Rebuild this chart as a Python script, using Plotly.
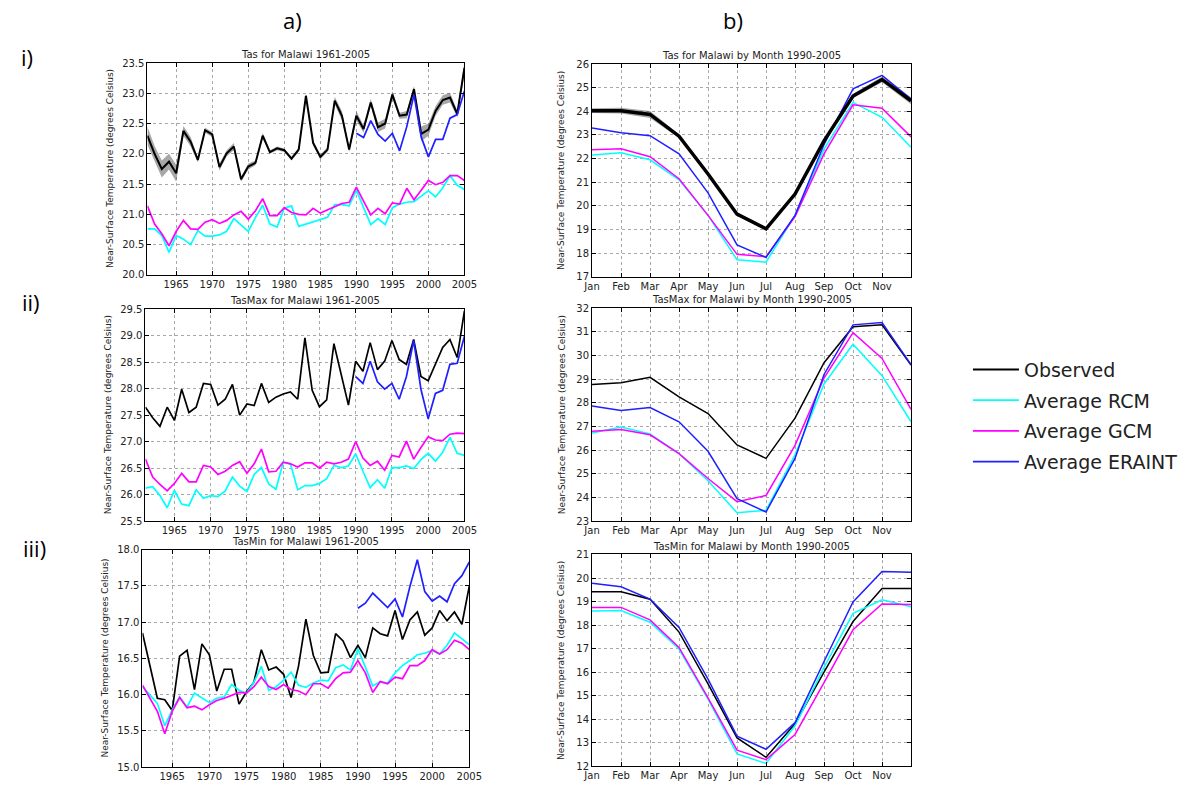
import plotly.graph_objects as go

W, H = 1191, 785

years = list(range(1961, 2006))
years_era = list(range(1990, 2006))
months = list(range(12))
month_labels = ["Jan", "Feb", "Mar", "Apr", "May", "Jun", "Jul", "Aug", "Sep", "Oct", "Nov"]

# ---------- Annual series ----------
tas_obs = [22.3, 22.0, 21.75, 21.87, 21.68, 22.38, 22.2, 21.9, 22.39, 22.32,
           21.78, 22.01, 22.12, 21.58, 21.79, 21.85, 22.3, 22.03, 22.09, 22.06,
           21.92, 22.07, 22.96, 22.18, 21.95, 22.07, 22.88, 22.63, 22.07, 22.63,
           22.41, 22.85, 22.44, 22.5, 22.98, 22.63, 22.65, 23.07, 22.33, 22.4,
           22.71, 22.89, 22.93, 22.66, 23.42]
tas_obs_spread = [0.15, 0.13, 0.14, 0.13, 0.14, 0.08, 0.08, 0.04, 0.04, 0.04,
                  0.06, 0.05, 0.06, 0.04, 0.05, 0.04, 0.05, 0.03, 0.03, 0.03,
                  0.03, 0.03, 0.03, 0.04, 0.04, 0.04, 0.06, 0.08, 0.04, 0.08,
                  0.06, 0.06, 0.08, 0.08, 0.06, 0.05, 0.06, 0.05, 0.12, 0.1,
                  0.08, 0.08, 0.08, 0.06, 0.1]
tas_rcm = [20.76, 20.76, 20.65, 20.37, 20.65, 20.59, 20.5, 20.73, 20.64, 20.64,
           20.66, 20.72, 20.93, 20.83, 20.72, 20.95, 21.15, 20.84, 20.79, 21.1,
           21.14, 20.8, 20.84, 20.88, 20.92, 20.95, 21.16, 21.16, 21.14, 21.4,
           21.11, 20.83, 20.93, 20.83, 21.11, 21.17, 21.2, 21.21, 21.3, 21.39,
           21.29, 21.44, 21.64, 21.48, 21.41]
tas_gcm = [21.14, 20.84, 20.68, 20.48, 20.72, 20.9, 20.76, 20.75, 20.87, 20.91,
           20.85, 20.9, 20.99, 21.05, 20.92, 21.06, 21.26, 20.98, 20.98, 21.11,
           21.03, 21.0, 20.99, 21.1, 21.02, 21.07, 21.13, 21.18, 21.2, 21.45,
           21.22, 20.99, 21.1, 21.01, 21.19, 21.17, 21.43, 21.24, 21.4, 21.56,
           21.49, 21.53, 21.64, 21.64, 21.56]
tas_era = [22.34, 22.27, 22.55, 22.32, 22.21, 22.34, 22.05, 22.45, 22.98, 22.28,
           21.95, 22.24, 22.24, 22.59, 22.65, 23.04]

tmax_obs = [27.65, 27.45, 27.29, 27.65, 27.4, 27.99, 27.55, 27.65, 28.1, 28.08,
            27.69, 27.8, 28.08, 27.5, 27.71, 27.68, 28.1, 27.74, 27.84, 27.9,
            27.94, 27.8, 28.96, 27.97, 27.66, 27.79, 28.85, 28.28, 27.69, 28.52,
            28.33, 28.87, 28.36, 28.52, 28.91, 28.55, 28.46, 28.93, 28.23, 28.15,
            28.46, 28.78, 28.93, 28.59, 29.47]
tmax_rcm = [26.12, 26.15, 25.98, 25.75, 26.08, 25.82, 25.79, 26.09, 25.93, 25.98,
            25.96, 26.07, 26.33, 26.16, 26.06, 26.38, 26.51, 26.2, 26.1, 26.61,
            26.58, 26.09, 26.17, 26.17, 26.21, 26.3, 26.55, 26.51, 26.54, 26.77,
            26.44, 26.13, 26.28, 26.12, 26.51, 26.51, 26.54, 26.49, 26.66, 26.78,
            26.63, 26.8, 27.08, 26.78, 26.74]
tmax_gcm = [26.67, 26.33, 26.19, 26.07, 26.21, 26.4, 26.24, 26.24, 26.55, 26.52,
            26.38, 26.44, 26.55, 26.62, 26.4, 26.58, 26.86, 26.43, 26.44, 26.61,
            26.58, 26.52, 26.6, 26.6, 26.5, 26.61, 26.58, 26.61, 26.67, 27.0,
            26.69, 26.55, 26.63, 26.46, 26.74, 26.71, 27.01, 26.67, 26.89, 27.09,
            27.03, 27.02, 27.14, 27.16, 27.15]
tmax_era = [28.23, 28.1, 28.52, 28.13, 27.99, 28.1, 27.8, 28.23, 28.91, 27.99,
            27.43, 27.91, 27.97, 28.46, 28.48, 28.99]

tmin_obs = [16.85, 16.38, 15.95, 15.93, 15.78, 16.53, 16.61, 16.07, 16.7, 16.55,
            16.05, 16.35, 16.35, 15.87, 16.04, 16.17, 16.62, 16.34, 16.38, 16.28,
            15.96, 16.39, 17.04, 16.54, 16.3, 16.31, 16.84, 16.74, 16.51, 16.68,
            16.51, 16.92, 16.84, 16.81, 17.16, 16.76, 17.03, 17.14, 16.82, 16.92,
            17.16, 17.02, 17.14, 16.97, 17.5]
tmin_rcm = [16.11, 16.0, 15.88, 15.57, 15.79, 15.97, 15.83, 16.02, 15.96, 15.89,
            15.95, 15.97, 16.14, 16.06, 16.02, 16.17, 16.39, 16.06, 16.11, 16.2,
            16.31, 16.13, 16.1, 16.16, 16.2, 16.19, 16.37, 16.41, 16.34, 16.63,
            16.38, 16.12, 16.18, 16.16, 16.3, 16.4, 16.47, 16.55, 16.57, 16.61,
            16.56, 16.68, 16.85, 16.77, 16.69]
tmin_gcm = [16.13, 15.95, 15.77, 15.46, 15.77, 15.96, 15.82, 15.84, 15.79, 15.86,
            15.92, 15.95, 15.99, 16.03, 16.02, 16.11, 16.24, 16.11, 16.07, 16.14,
            16.07, 16.05, 16.0, 16.15, 16.15, 16.09, 16.22, 16.3, 16.31, 16.47,
            16.3, 16.03, 16.18, 16.15, 16.24, 16.22, 16.4, 16.4, 16.47, 16.62,
            16.56, 16.62, 16.75, 16.71, 16.62]
tmin_era = [17.19, 17.26, 17.4, 17.3, 17.2, 17.32, 17.07, 17.49, 17.86, 17.42,
            17.29, 17.36, 17.28, 17.53, 17.64, 17.83]

# ---------- Monthly series (Jan..Dec) ----------
m_tas_obs = [24.03, 24.03, 23.87, 22.95, 21.35, 19.65, 19.03, 20.5, 22.75, 24.65, 25.35, 24.45]
m_tas_obs_spread = [0.1, 0.12, 0.15, 0.08, 0.06, 0.05, 0.05, 0.06, 0.08, 0.1, 0.12, 0.15]
m_tas_rcm = [22.15, 22.25, 21.95, 21.1, 19.6, 17.72, 17.62, 19.6, 22.4, 24.38, 23.75, 22.48]
m_tas_gcm = [22.38, 22.42, 22.08, 21.15, 19.6, 17.95, 17.85, 19.55, 22.2, 24.28, 24.13, 22.92]
m_tas_era = [23.3, 23.1, 22.97, 22.2, 20.55, 18.35, 17.82, 19.6, 22.6, 24.95, 25.52, 24.52]

m_tmax_obs = [28.78, 28.85, 29.08, 28.25, 27.55, 26.22, 25.65, 27.35, 29.7, 31.22, 31.3, 29.6]
m_tmax_rcm = [26.72, 26.98, 26.68, 25.85, 24.7, 23.35, 23.45, 25.8, 28.8, 30.48, 29.15, 27.2]
m_tmax_gcm = [26.8, 26.87, 26.65, 25.85, 24.8, 23.82, 24.08, 26.2, 29.05, 30.97, 29.88, 27.72]
m_tmax_era = [27.87, 27.68, 27.8, 27.2, 25.95, 23.95, 23.38, 25.65, 29.2, 31.3, 31.4, 29.62]

m_tmin_obs = [19.42, 19.42, 19.1, 17.7, 15.5, 13.2, 12.38, 13.8, 16.0, 18.15, 19.55, 19.55]
m_tmin_rcm = [18.6, 18.62, 18.12, 16.98, 14.85, 12.52, 12.12, 13.72, 16.2, 18.5, 19.07, 18.78]
m_tmin_gcm = [18.75, 18.75, 18.22, 17.05, 14.9, 12.68, 12.28, 13.35, 15.55, 17.8, 18.9, 18.87]
m_tmin_era = [19.78, 19.63, 19.1, 17.9, 15.7, 13.28, 12.72, 13.85, 16.45, 18.98, 20.28, 20.25]

# ---------- styling / layout ----------
FONT = "DejaVu Sans"
C_OBS, C_RCM, C_GCM, C_ERA = "black", "#00ffff", "#ff00ff", "#1f1fff"
NAMES = ["Observed", "Average RCM", "Average GCM", "Average ERAINT"]

# panel boxes in pixels: (left, right, top, bottom)
boxes = {
    1: (141, 464, 58, 273),
    2: (139, 464, 308, 523),
    3: (136, 469, 552, 773),
    4: (594, 919, 59, 275),
    5: (594, 919, 307, 523),
    6: (594, 919, 557, 772),
}

fig = go.Figure()


def add_line(n, x, y, color, width, name, legend=False):
    fig.add_trace(go.Scatter(
        x=x, y=y, mode="lines", line=dict(color=color, width=width),
        name=name, showlegend=legend, legendgroup=name,
        xaxis="x" if n == 1 else f"x{n}", yaxis="y" if n == 1 else f"y{n}",
        hoverinfo="skip"))


def add_band(n, x, center, spread):
    up = [c + s for c, s in zip(center, spread)]
    lo = [c - s for c, s in zip(center, spread)]
    ax = dict(xaxis="x" if n == 1 else f"x{n}", yaxis="y" if n == 1 else f"y{n}")
    fig.add_trace(go.Scatter(x=x, y=up, mode="lines", line=dict(width=0, color="gray"),
                             showlegend=False, hoverinfo="skip", **ax))
    fig.add_trace(go.Scatter(x=x, y=lo, mode="lines", line=dict(width=0, color="gray"),
                             fill="tonexty", fillcolor="rgba(60,60,60,0.45)",
                             showlegend=False, hoverinfo="skip", **ax))


# a-i
add_band(1, years, tas_obs, tas_obs_spread)
add_line(1, years, tas_obs, C_OBS, 2, NAMES[0], True)
add_line(1, years, tas_rcm, C_RCM, 1.7, NAMES[1], True)
add_line(1, years, tas_gcm, C_GCM, 1.7, NAMES[2], True)
add_line(1, years_era, tas_era, C_ERA, 1.7, NAMES[3], True)
# a-ii
add_line(2, years, tmax_obs, C_OBS, 1.7, NAMES[0])
add_line(2, years, tmax_rcm, C_RCM, 1.7, NAMES[1])
add_line(2, years, tmax_gcm, C_GCM, 1.7, NAMES[2])
add_line(2, years_era, tmax_era, C_ERA, 1.7, NAMES[3])
# a-iii
add_line(3, years, tmin_obs, C_OBS, 1.7, NAMES[0])
add_line(3, years, tmin_rcm, C_RCM, 1.7, NAMES[1])
add_line(3, years, tmin_gcm, C_GCM, 1.7, NAMES[2])
add_line(3, years_era, tmin_era, C_ERA, 1.7, NAMES[3])
# b-i
add_band(4, months, m_tas_obs, m_tas_obs_spread)
add_line(4, months, m_tas_rcm, C_RCM, 1.5, NAMES[1])
add_line(4, months, m_tas_gcm, C_GCM, 1.5, NAMES[2])
add_line(4, months, m_tas_era, C_ERA, 1.5, NAMES[3])
add_line(4, months, m_tas_obs, C_OBS, 3.5, NAMES[0])
# b-ii
add_line(5, months, m_tmax_obs, C_OBS, 1.5, NAMES[0])
add_line(5, months, m_tmax_rcm, C_RCM, 1.5, NAMES[1])
add_line(5, months, m_tmax_gcm, C_GCM, 1.5, NAMES[2])
add_line(5, months, m_tmax_era, C_ERA, 1.5, NAMES[3])
# b-iii
add_line(6, months, m_tmin_obs, C_OBS, 1.5, NAMES[0])
add_line(6, months, m_tmin_rcm, C_RCM, 1.5, NAMES[1])
add_line(6, months, m_tmin_gcm, C_GCM, 1.5, NAMES[2])
add_line(6, months, m_tmin_era, C_ERA, 1.5, NAMES[3])

yranges = {1: (20, 23.5, 0.5), 2: (25.5, 29.5, 0.5), 3: (15, 18, 0.5),
           4: (17, 26, 1), 5: (23, 32, 1), 6: (12, 21, 1)}
titles = {1: "Tas for Malawi 1961-2005", 2: "TasMax for Malawi 1961-2005",
          3: "TasMin for Malawi 1961-2005", 4: "Tas for Malawi by Month 1990-2005",
          5: "TasMax for Malawi by Month 1990-2005", 6: "TasMin for Malawi by Month 1990-2005"}

common = dict(showline=True, linecolor="black", linewidth=1, mirror="ticks",
              ticks="inside", ticklen=4, tickcolor="black",
              showgrid=True, gridcolor="#a8a8a8", griddash="dot", gridwidth=1,
              zeroline=False, tickfont=dict(family=FONT, size=10, color="#222"))

layout = dict(width=W, height=H, margin=dict(l=0, r=0, t=0, b=0),
              paper_bgcolor="white", plot_bgcolor="white", showlegend=True)
annotations = []
for n, (l, r, t, b) in boxes.items():
    xk = "xaxis" if n == 1 else f"xaxis{n}"
    yk = "yaxis" if n == 1 else f"yaxis{n}"
    anchor_x = "y" if n == 1 else f"y{n}"
    anchor_y = "x" if n == 1 else f"x{n}"
    xa = dict(common, domain=[l / W, r / W], anchor=anchor_x, ticklabelstandoff=0)
    if n <= 3:
        xa.update(range=[1961, 2005], tickvals=list(range(1965, 2006, 5)))
    else:
        xa.update(range=[0, 11], tickvals=list(range(11)), ticktext=month_labels)
    lo, hi, st = yranges[n]
    nt = int(round((hi - lo) / st))
    tv = [lo + i * st for i in range(nt + 1)]
    ya = dict(common, domain=[1 - b / H, 1 - t / H], anchor=anchor_y,
              range=[lo, hi], tickvals=tv,
              tickformat=".1f" if n <= 3 else "d")
    layout[xk] = xa
    layout[yk] = ya
    annotations.append(dict(text=titles[n], x=(l + r) / 2 / W, y=1 - (t - 1) / H,
                            xref="paper", yref="paper", xanchor="center", yanchor="bottom",
                            showarrow=False, font=dict(family=FONT, size=10, color="#222")))
    ylab_x = (l - 38) if n <= 3 else (l - 31)
    annotations.append(dict(text="Near-Surface Temperature (degrees Celsius)",
                            x=ylab_x / W, y=1 - (t + b) / 2 / H, xref="paper", yref="paper",
                            xanchor="center", yanchor="middle", textangle=-90, showarrow=False,
                            font=dict(family=FONT, size=9, color="#222")))

for txt, px, py in [("a)", 289, 14), ("b)", 738, 14), ("i)", 18, 52), ("ii)", 22, 301), ("iii)", 26, 550)]:
    annotations.append(dict(text=txt, x=px / W, y=1 - py / H, xref="paper", yref="paper",
                            xanchor="center", yanchor="middle", showarrow=False,
                            font=dict(family="Open Sans", size=22, color="black")))

layout["annotations"] = annotations
layout["legend"] = dict(x=977 / W, y=1 - 350 / H, xanchor="left", yanchor="top",
                        font=dict(family=FONT, size=19, color="#222"),
                        bgcolor="rgba(0,0,0,0)", tracegroupgap=3, itemwidth=46)
fig.update_layout(**layout)
fig.write_html("out.html")
